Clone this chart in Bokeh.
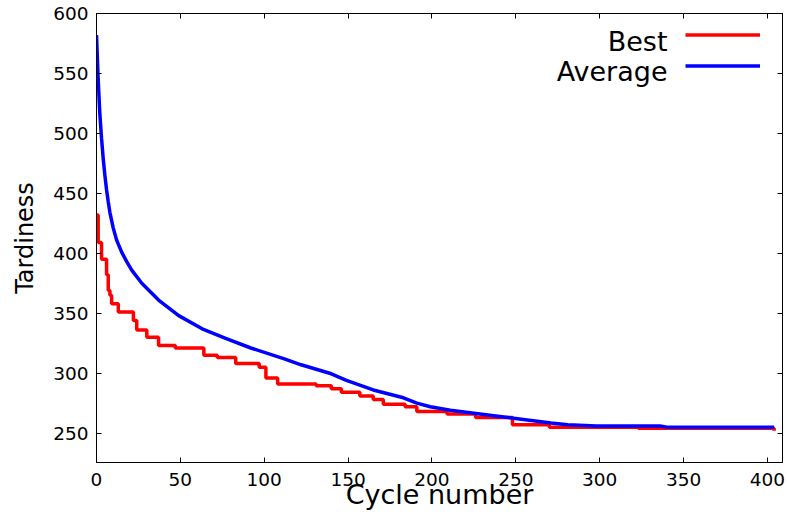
from bokeh.plotting import figure
from bokeh.models import Range1d, LinearAxis, FixedTicker, Legend, LegendItem, Label
from bokeh.core.properties import value
from bokeh.embed import file_html
from bokeh.resources import INLINE

# ---- data ----
best_cycle = [0, 1, 3, 6, 7, 8, 9, 13, 22, 24, 30, 37, 47, 64, 72, 83, 97, 101, 108,
              131, 140, 146, 157, 165, 171, 184, 191, 209, 226, 248, 270, 323, 404]
best_tardiness = [432, 409, 395, 382, 369, 365, 358, 351, 344, 336, 330, 323, 321, 315, 313,
                  308, 305, 296, 291, 289.5, 287, 284, 281, 278, 274, 272, 268, 266, 263,
                  257, 255, 254, 252]

avg_cycle = [0, 1, 2, 3, 4, 5, 6, 7, 8, 10, 12, 15, 18, 21, 27, 37, 49, 63, 77, 92, 112,
             122, 140, 149, 165, 183, 191, 199, 211, 231, 251, 271, 281, 298, 320, 336,
             340, 404]
avg_tardiness = [582, 545, 516, 496, 479, 465, 453, 443, 434, 421, 411, 401, 393, 386, 375,
                 361, 348, 337, 329, 321, 312, 307, 299.5, 294, 286, 279.5, 275, 272, 269,
                 265.5, 262, 258.5, 257, 256, 256, 256, 255, 255]

x_ticks = [0, 50, 100, 150, 200, 250, 300, 350, 400]
y_ticks = [250, 300, 350, 400, 450, 500, 550, 600]
series_names = ["Best", "Average"]

FONT = "DejaVu Sans"

p = figure(width=787, height=515, output_backend="svg", toolbar_location=None,
           x_range=Range1d(0, 409), y_range=Range1d(225.5, 600),
           min_border_left=96, min_border_right=5, min_border_top=13, min_border_bottom=53,
           x_axis_label="Cycle number", y_axis_label="Tardiness")
p.grid.visible = False
p.outline_line_color = "black"
p.outline_line_width = 1
p.background_fill_color = "white"
p.border_fill_color = "white"

for ax, ticks in ((p.xaxis[0], x_ticks), (p.yaxis[0], y_ticks)):
    ax.ticker = FixedTicker(ticks=ticks)
    ax.major_tick_in = 5
    ax.major_tick_out = 0
    ax.minor_tick_line_color = None
    ax.axis_line_color = "black"
    ax.major_tick_line_color = "black"
    ax.major_label_text_font = FONT
    ax.major_label_text_font_size = "18.5px"
    ax.major_label_text_color = "black"
    ax.major_label_standoff = 8
    ax.axis_label_text_font = FONT
    ax.axis_label_text_font_style = "normal"
    ax.axis_label_text_color = "black"

p.xaxis[0].major_label_standoff = 10
p.xaxis[0].axis_label_text_font_size = "27px"
p.xaxis[0].axis_label_standoff = -10
p.yaxis[0].axis_label_text_font_size = "24px"
p.yaxis[0].axis_label_standoff = 11

# mirrored ticks on top and right (gnuplot style)
top_ax = LinearAxis(ticker=FixedTicker(ticks=x_ticks))
right_ax = LinearAxis(ticker=FixedTicker(ticks=y_ticks))
for ax in (top_ax, right_ax):
    ax.major_tick_in = 5
    ax.major_tick_out = 0
    ax.minor_tick_line_color = None
    ax.major_label_text_color = None
    ax.major_label_text_font_size = "1px"
    ax.major_label_standoff = 0
p.add_layout(top_ax, "above")
p.add_layout(right_ax, "right")

r_best = p.step(best_cycle, best_tardiness, mode="after", line_color="#ff0000", line_width=3.5)
r_avg = p.line(avg_cycle, avg_tardiness, line_color="#0000ff", line_width=3.5)

legend = Legend(items=[LegendItem(label=value(""), renderers=[r_best]),
                       LegendItem(label=value(""), renderers=[r_avg])],
                location=(589, 381.5), padding=0, margin=0, spacing=0,
                glyph_width=75, glyph_height=31, label_height=31, label_width=0,
                label_standoff=0, border_line_color=None, background_fill_alpha=0,
                label_text_font_size="1px")
p.add_layout(legend, "center")

for name, yb in zip(series_names, (421, 391)):
    p.add_layout(Label(x=571, y=yb, x_units="screen", y_units="screen", text=name,
                       text_align="right", text_baseline="alphabetic",
                       text_font=FONT, text_font_size="27px", text_color="black"))

open("out.html", "w").write(file_html(p, INLINE))
